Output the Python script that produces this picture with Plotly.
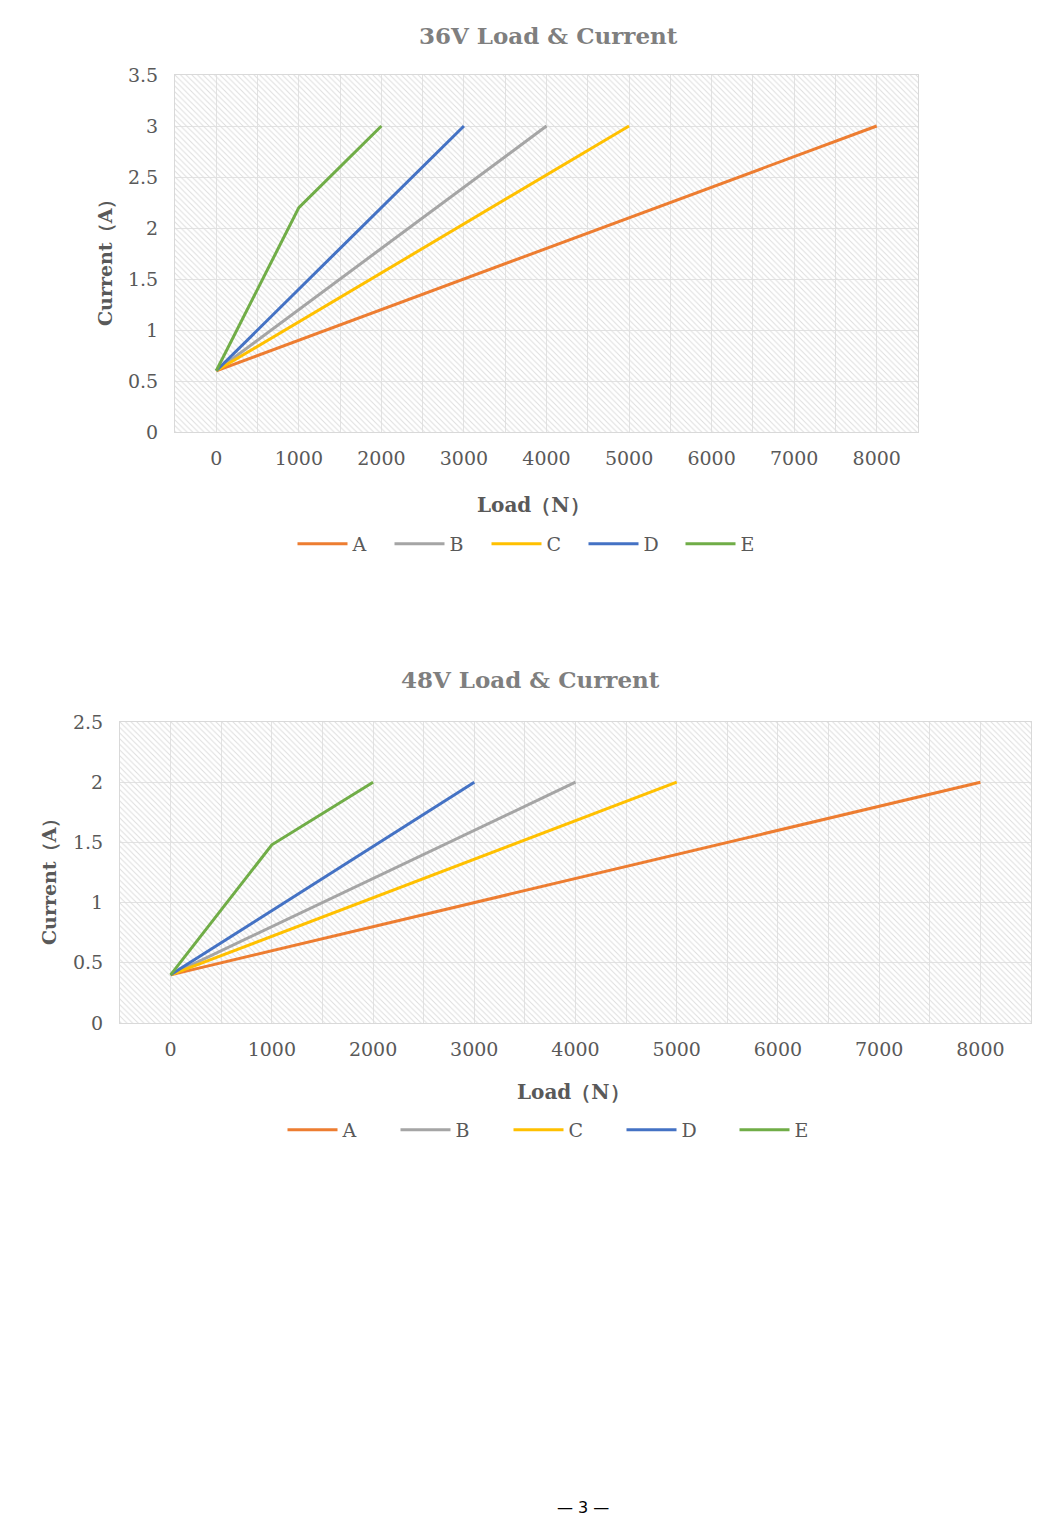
import plotly.graph_objects as go

W, H = 1060, 1518

series_names = ["A", "B", "C", "D", "E"]
colors = ["#ED7D31", "#A5A5A5", "#FFC000", "#4472C4", "#70AD47"]

# 36V data
v36_x = {
    "A": [0, 1000, 2000, 3000, 4000, 5000, 6000, 7000, 8000],
    "B": [0, 1000, 2000, 3000, 4000],
    "C": [0, 1000, 2000, 3000, 4000, 5000],
    "D": [0, 1000, 2000, 3000],
    "E": [0, 1000, 2000],
}
v36_y = {
    "A": [0.6, 0.9, 1.2, 1.5, 1.8, 2.1, 2.4, 2.7, 3.0],
    "B": [0.6, 1.2, 1.8, 2.4, 3.0],
    "C": [0.6, 1.08, 1.56, 2.04, 2.52, 3.0],
    "D": [0.6, 1.4, 2.2, 3.0],
    "E": [0.6, 2.2, 3.0],
}
# 48V data
v48_x = v36_x
v48_y = {
    "A": [0.4, 0.6, 0.8, 1.0, 1.2, 1.4, 1.6, 1.8, 2.0],
    "B": [0.4, 0.8, 1.2, 1.6, 2.0],
    "C": [0.4, 0.72, 1.04, 1.36, 1.68, 2.0],
    "D": [0.4, 0.933, 1.467, 2.0],
    "E": [0.4, 1.48, 2.0],
}

x_ticks = [0, 1000, 2000, 3000, 4000, 5000, 6000, 7000, 8000]
x_range = [-500, 8500]
y36_range = [0, 3.5]
y48_range = [0, 2.5]

SERIF = "DejaVu Serif"
TICK_COLOR = "#595959"
GRID = "#e2e2e2"

fig = go.Figure()

def px_x(p):
    return p / W

def px_y(p):
    return 1 - p / H

# hatched backgrounds
for xa, ya, top in (("x", "y", y36_range[1]), ("x2", "y2", y48_range[1])):
    fig.add_trace(go.Bar(
        x=[(x_range[0] + x_range[1]) / 2], y=[top], width=[x_range[1] - x_range[0]],
        marker=dict(color="rgba(255,255,255,0)", line=dict(width=0),
                    pattern=dict(shape="\\", fgcolor="#dedede", bgcolor="rgba(255,255,255,0)",
                                 size=4, solidity=0.25, fillmode="replace")),
        xaxis=xa, yaxis=ya, showlegend=False, hoverinfo="skip",
    ))

for name, c in zip(series_names, colors):
    fig.add_trace(go.Scatter(x=v36_x[name], y=v36_y[name], mode="lines", name=name,
                             line=dict(color=c, width=3), xaxis="x", yaxis="y",
                             legend="legend"))
for name, c in zip(series_names, colors):
    fig.add_trace(go.Scatter(x=v48_x[name], y=v48_y[name], mode="lines", name=name,
                             line=dict(color=c, width=3), xaxis="x2", yaxis="y2",
                             legend="legend2"))

xcommon = dict(range=x_range, tickvals=x_ticks, showgrid=True, gridcolor=GRID, gridwidth=1,
               minor=dict(dtick=500, tick0=-500, showgrid=True, gridcolor=GRID, gridwidth=1),
               zeroline=False, showline=True, linecolor="#d9d9d9", linewidth=1, mirror=True,
               ticks="outside", ticklen=9, tickcolor="rgba(0,0,0,0)",
               tickfont=dict(family=SERIF, size=19, color=TICK_COLOR), fixedrange=True,
               automargin=False)
ycommon = dict(dtick=0.5, showgrid=True, gridcolor=GRID, gridwidth=1, zeroline=False,
               showline=True, linecolor="#d9d9d9", linewidth=1, mirror=True,
               ticks="outside", ticklen=12, tickcolor="rgba(0,0,0,0)",
               tickfont=dict(family=SERIF, size=19, color=TICK_COLOR), fixedrange=True,
               automargin=False)

legend_font = dict(family=SERIF, size=19, color=TICK_COLOR)
fig.update_layout(
    width=W, height=H, margin=dict(l=0, r=0, t=0, b=0, autoexpand=False),
    paper_bgcolor="white", plot_bgcolor="white", barmode="overlay",
    xaxis=dict(domain=[px_x(175), px_x(918)], anchor="y", **xcommon),
    yaxis=dict(domain=[px_y(432), px_y(75)], anchor="x", range=y36_range, **ycommon),
    xaxis2=dict(domain=[px_x(120), px_x(1031)], anchor="y2", **xcommon),
    yaxis2=dict(domain=[px_y(1023), px_y(722)], anchor="x2", range=y48_range, **ycommon),
    legend=dict(orientation="h", x=px_x(535), xanchor="center", y=px_y(544), yanchor="middle",
                entrywidth=32, entrywidthmode="pixels", itemwidth=50,
                font=legend_font, bgcolor="rgba(0,0,0,0)"),
    legend2=dict(orientation="h", x=px_x(565), xanchor="center", y=px_y(1130), yanchor="middle",
                 entrywidth=48, entrywidthmode="pixels", itemwidth=50,
                 font=legend_font, bgcolor="rgba(0,0,0,0)"),
    showlegend=True,
)

title_font = dict(family=SERIF, size=23, color="#7f7f7f")
axis_title_font = dict(family=SERIF, size=20, color=TICK_COLOR)
ytitle_font = dict(family=SERIF, size=19, color=TICK_COLOR)
annots = [
    dict(text="<b>36V Load &amp; Current</b>", x=px_x(548), y=px_y(36), font=title_font),
    dict(text="<b>48V Load &amp; Current</b>", x=px_x(530), y=px_y(680), font=title_font),
    dict(text="<b>Load（N）</b>", x=px_x(533), y=px_y(505), font=axis_title_font),
    dict(text="<b>Load（N）</b>", x=px_x(573), y=px_y(1092), font=axis_title_font),
    dict(text="<b>Current（A）</b>", x=px_x(105), y=px_y(258), font=ytitle_font, textangle=-90),
    dict(text="<b>Current（A）</b>", x=px_x(49), y=px_y(877), font=ytitle_font, textangle=-90),
    dict(text="— 3 —", x=px_x(583), y=px_y(1507), font=dict(family="DejaVu Sans", size=16, color="#000")),
]
for a in annots:
    fig.add_annotation(xref="paper", yref="paper", xanchor="center", yanchor="middle",
                       showarrow=False, **a)

fig.write_html("out.html", config={"displayModeBar": False},
               post_script="document.body.style.margin='0';document.body.style.overflow='hidden';")
